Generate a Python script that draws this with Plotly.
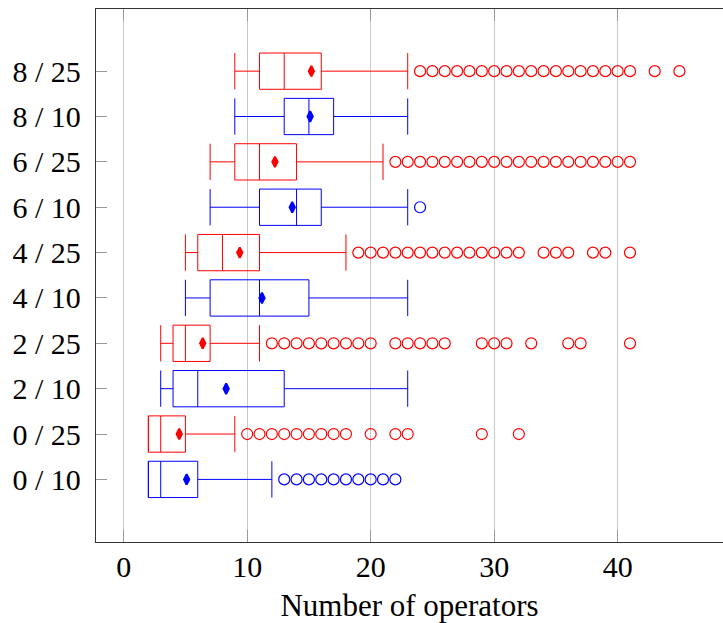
import plotly.graph_objects as go

categories = ["0 / 10", "0 / 25", "2 / 10", "2 / 25", "4 / 10",
              "4 / 25", "6 / 10", "6 / 25", "8 / 10", "8 / 25"]

# Series with 10 (blue)
cats10 = ["0 / 10", "2 / 10", "4 / 10", "6 / 10", "8 / 10"]
q1_10 = [2, 4, 7, 11, 13]
med_10 = [3, 6, 11, 14, 15]
q3_10 = [6, 13, 15, 16, 17]
low_10 = [2, 3, 5, 7, 9]
up_10 = [12, 23, 23, 23, 23]
mean_10 = [5.1, 8.3, 11.2, 13.65, 15.1]
out_10 = {
    "0 / 10": [13, 14, 15, 16, 17, 18, 19, 20, 21, 22],
    "6 / 10": [24],
}

# Series with 25 (red)
cats25 = ["0 / 25", "2 / 25", "4 / 25", "6 / 25", "8 / 25"]
q1_25 = [2, 4, 6, 9, 11]
med_25 = [3, 5, 8, 11, 13]
q3_25 = [5, 7, 11, 14, 16]
low_25 = [2, 3, 5, 7, 9]
up_25 = [9, 11, 18, 21, 23]
mean_25 = [4.5, 6.4, 9.4, 12.25, 15.2]
out_25 = {
    "0 / 25": [10, 11, 12, 13, 14, 15, 16, 17, 18, 20, 22, 23, 29, 32],
    "2 / 25": [12, 13, 14, 15, 16, 17, 18, 19, 20, 22, 23, 24, 25, 26,
               29, 30, 31, 33, 36, 37, 41],
    "4 / 25": [19, 20, 21, 22, 23, 24, 25, 26, 27, 28, 29, 30, 31, 32,
               34, 35, 36, 38, 39, 41],
    "6 / 25": [22, 23, 24, 25, 26, 27, 28, 29, 30, 31, 32, 33, 34, 35,
               36, 37, 38, 39, 40, 41],
    "8 / 25": [24, 25, 26, 27, 28, 29, 30, 31, 32, 33, 34, 35, 36, 37,
               38, 39, 40, 41, 43, 45],
}

x_ticks = [0, 10, 20, 30, 40]

FONT = "Liberation Serif"
RED = "#ff0000"
BLUE = "#0000ff"

fig = go.Figure()


def add_series(cats, q1, med, q3, low, up, mean, outs, color):
    fig.add_trace(go.Box(
        y=cats, q1=q1, median=med, q3=q3, lowerfence=low, upperfence=up,
        orientation="h", width=0.8, whiskerwidth=1,
        line=dict(color=color, width=1), fillcolor="rgba(0,0,0,0)",
        boxpoints=False, showlegend=False, hoverinfo="skip",
    ))
    ox, oy = [], []
    for c, vals in outs.items():
        for v in vals:
            ox.append(v)
            oy.append(c)
    fig.add_trace(go.Scatter(
        x=ox, y=oy, mode="markers", showlegend=False,
        marker=dict(symbol="circle-open", size=11, color=color,
                    line=dict(width=1.2, color=color)),
    ))
    fig.add_trace(go.Scatter(
        x=mean, y=cats, mode="markers", showlegend=False,
        marker=dict(symbol="diamond-tall", size=7.5, color=color,
                    line=dict(width=2, color=color)),
    ))


add_series(cats25, q1_25, med_25, q3_25, low_25, up_25, mean_25, out_25, RED)
add_series(cats10, q1_10, med_10, q3_10, low_10, up_10, mean_10, out_10, BLUE)

fig.update_layout(
    width=723, height=623,
    margin=dict(l=96, r=0, t=9, b=81),
    plot_bgcolor="white", paper_bgcolor="white",
    boxmode="overlay",
    font=dict(family=FONT, size=30, color="black"),
    xaxis=dict(
        range=[-2.24, 48.53], tickvals=x_ticks, automargin=False,
        showgrid=True, gridcolor="#c8c8c8", gridwidth=1,
        ticks="inside", ticklen=12, tickcolor="#999999",
        showline=True, linecolor="#333333", linewidth=1.3, mirror="ticks",
        zeroline=False, ticklabelstandoff=-2,
        title=dict(text="Number of operators", font=dict(size=31), standoff=15),
    ),
    yaxis=dict(
        type="category", categoryorder="array", categoryarray=categories,
        range=[-1.38, 10.37], showgrid=False, automargin=False,
        ticks="inside", ticklen=11, tickcolor="#999999",
        showline=True, linecolor="#333333", linewidth=1.3, mirror=False,
        zeroline=False, ticklabelstandoff=8,
    ),
)

fig.write_html(
    "out.html",
    config={"displayModeBar": False},
    post_script="document.body.style.margin='0';document.body.style.overflow='hidden';",
)
